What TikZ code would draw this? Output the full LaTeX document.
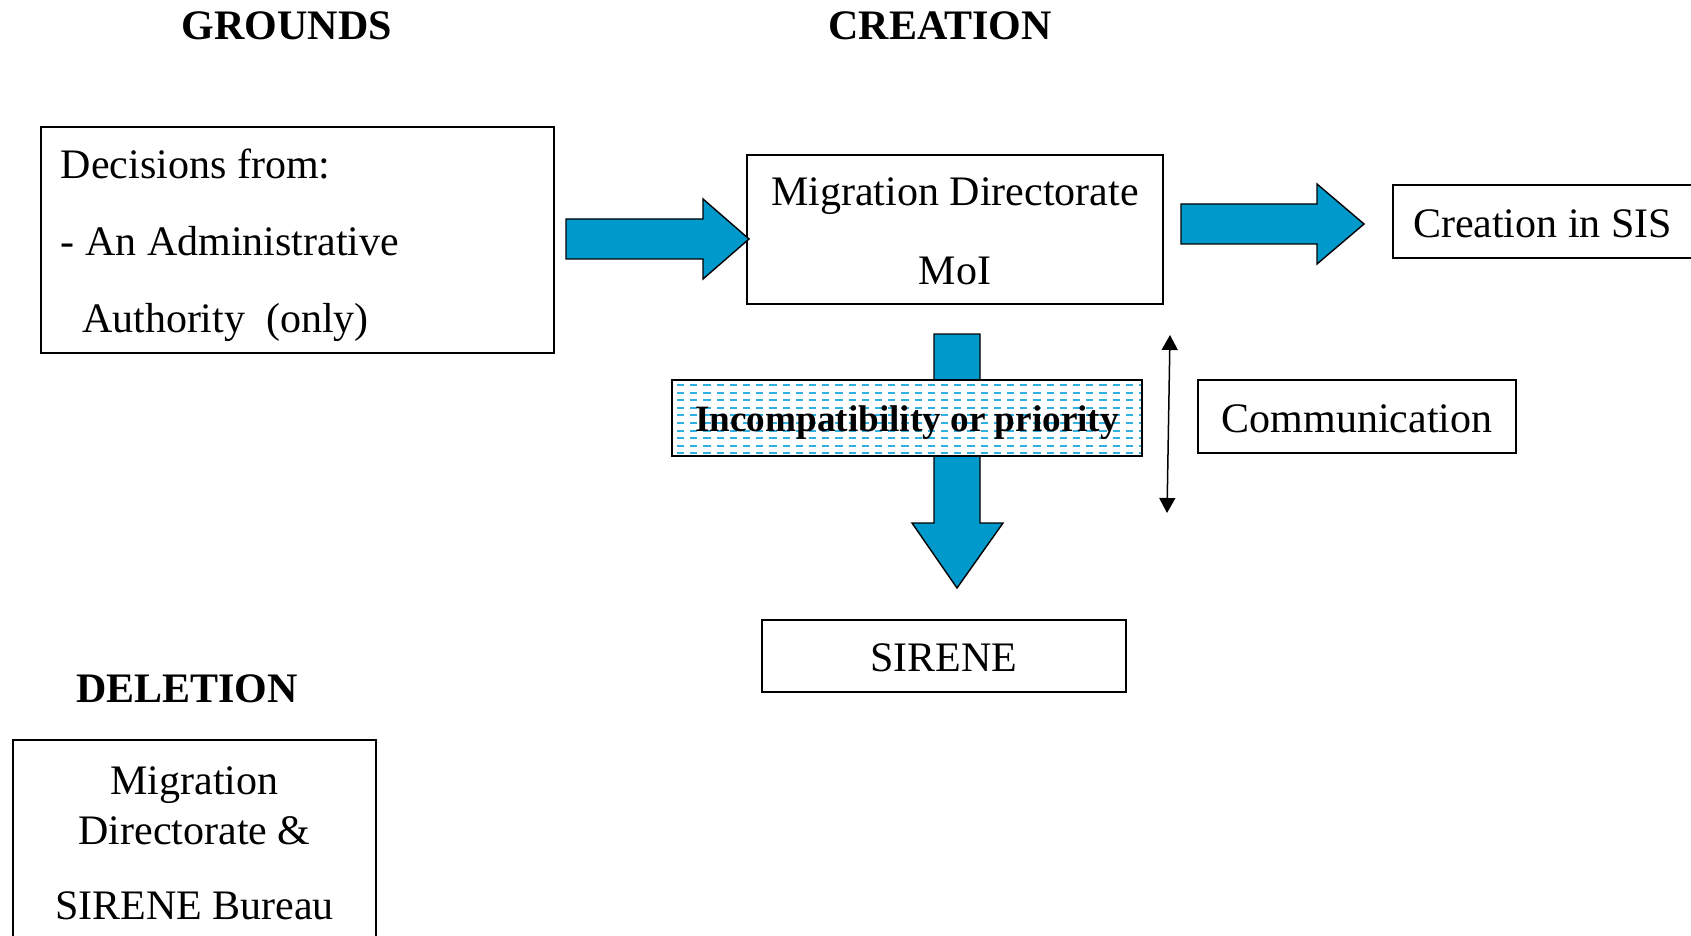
\documentclass[tikz,border=0pt]{standalone}
\usepackage{fontspec}
\setmainfont{Liberation Serif}
\usetikzlibrary{arrows.meta}
\definecolor{arrowblue}{RGB}{0,153,204}
\definecolor{dashblue}{RGB}{48,176,224}
\begin{document}
\begin{tikzpicture}[x=0.5pt,y=-0.5pt,
    box/.style={draw,line width=1pt,inner ysep=0pt,font=\fontsize{21}{25}\selectfont},
    title/.style={anchor=base,inner sep=0pt,font=\bfseries\fontsize{21}{25}\selectfont},
    bigarrow/.style={fill=arrowblue,draw=black,line width=0.7pt,line join=miter},
    dashline/.style={draw=dashblue,line width=1pt,dash pattern=on 3.6pt off 3pt,dash phase=4.1pt}]
  \useasboundingbox (0,0) rectangle (1691,936);
  \node[title] (grounds) at (287,40) {GROUNDS};
  \node[title] (creation) at (940,40) {CREATION};
  \node[title] (deletion) at (187,702) {DELETION};
  % boxes
  \node[box,anchor=north west,inner xsep=10pt,text width=236.5pt,align=flush left,
        font=\fontsize{21}{38.5}\selectfont,text height=26pt,text depth=87pt] (decisions) at (40,126)
    {Decisions from:\\- An Administrative\\\hspace*{10.5pt}Authority\ \ (only)};
  \node[box,anchor=north west,inner xsep=5pt,text width=198pt,align=flush center,
        font=\fontsize{21}{39.5}\selectfont,text height=25.5pt,text depth=49pt] (mig) at (746,154)
    {Migration Directorate\\MoI};
  \node[box,anchor=north west,inner xsep=10pt,text height=26.5pt,text depth=10pt] (sis) at (1392,184) {Creation in SIS};
  \node[box,anchor=north west,minimum width=159pt,text height=26pt,text depth=10.5pt] (comm) at (1197,379) {Communication};
  \node[box,anchor=north west,minimum width=182pt,text height=25.5pt,text depth=10.5pt] (sirene) at (761,619) {SIRENE};
  \node[box,anchor=north west,inner xsep=5pt,text width=171.5pt,align=flush center,
        font=\fontsize{21}{25}\selectfont,text height=27pt,text depth=80pt] (bureau) at (12,739)
    {Migration\\Directorate \&\\[12.5pt]SIRENE Bureau};
  % block arrows
  \draw[bigarrow] (566,219) -- (703,219) -- (703,199) -- (749,239) -- (703,279) -- (703,259) -- (566,259) -- cycle;
  \draw[bigarrow] (1181,204) -- (1317,204) -- (1317,184) -- (1364,224) -- (1317,264) -- (1317,244) -- (1181,244) -- cycle;
  \draw[bigarrow] (934,334) -- (980,334) -- (980,523) -- (1003,523) -- (957,588) -- (912,523) -- (934,523) -- cycle;
  \node[box,anchor=north west,fill=white,minimum width=235pt,text height=25.5pt,text depth=12.5pt,
        font=\bfseries\fontsize{18.6}{22}\selectfont,
        path picture={\foreach \k in {0,...,9}
          \draw[dashline] ([yshift=-2.5pt-3.8pt*\k]path picture bounding box.north west)
            -- ([yshift=-2.5pt-3.8pt*\k]path picture bounding box.north east);}]
    (incompat) at (671,379) {Incompatibility or priority};
  \coordinate (commtop) at (1170,335);
  \coordinate (commbot) at (1167,513);
  \draw[{Triangle[width=8pt,length=7.5pt]}-{Triangle[width=8pt,length=7.5pt]},line width=0.75pt] (commtop) -- (commbot);
\end{tikzpicture}
\end{document}
